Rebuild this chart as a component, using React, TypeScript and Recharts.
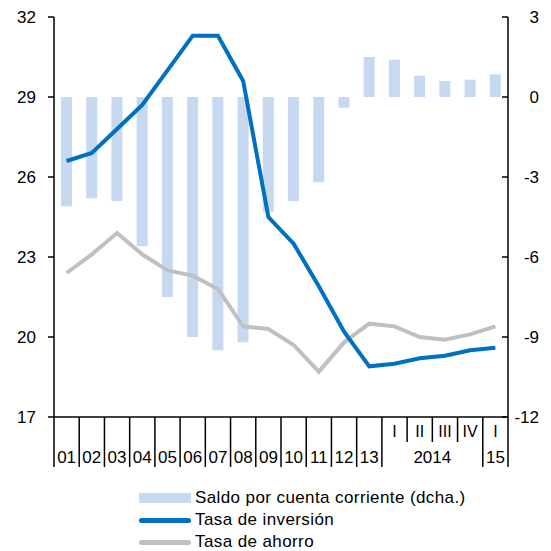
import React from 'react';
import { ComposedChart, Bar, Line, XAxis, YAxis } from 'recharts';

// rows under the x axis: quarters on top, years / 2-digit years below
const topRow = ['', '', '', '', '', '', '', '', '', '', '', '', '', 'I', 'II', 'III', 'IV', 'I'];
const bottomRow = ['01', '02', '03', '04', '05', '06', '07', '08', '09', '10', '11', '12', '13', '2014', '2014', '2014', '2014', '15'];

const saldo = [-4.1, -3.8, -3.9, -5.6, -7.5, -9.0, -9.5, -9.2, -4.3, -3.9, -3.2, -0.4, 1.5, 1.4, 0.8, 0.6, 0.65, 0.85];
const inversion = [26.6, 26.9, 27.8, 28.7, 30.0, 31.3, 31.3, 29.6, 24.5, 23.5, 21.9, 20.2, 18.9, 19.0, 19.2, 19.3, 19.5, 19.6];
const ahorro = [22.4, 23.1, 23.9, 23.1, 22.5, 22.3, 21.8, 20.4, 20.3, 19.7, 18.7, 19.8, 20.5, 20.4, 20.0, 19.9, 20.1, 20.4];

const leftTicks = [17, 20, 23, 26, 29, 32];
const rightTicks = [-12, -9, -6, -3, 0, 3];

const seriesNames = ['Saldo por cuenta corriente (dcha.)', 'Tasa de inversión', 'Tasa de ahorro'];
const BAR_COLOR = '#C6D9F1';
const BLUE = '#0070C0';
const GREY = '#C0C0C0';
const FONT = '"Liberation Sans", Arial, sans-serif';

const data = topRow.map((_, i) => ({
  id: String(i),
  saldo: saldo[i],
  inversion: inversion[i],
  ahorro: ahorro[i],
}));

const N = topRow.length;

const XTick = (props: any) => {
  const { x, y, index, payload, width } = props;
  const half = payload && payload.offset ? payload.offset : (width || 454) / N / 2;
  const step = half * 2;
  const left = x - half;
  const full = 50;
  const short = 25;
  const sameGroup = index > 0 && bottomRow[index] === bottomRow[index - 1];
  let groupLen = 1;
  while (index + groupLen < N && bottomRow[index + groupLen] === bottomRow[index]) groupLen++;
  return (
    <g>
      <line x1={left} y1={y} x2={left} y2={y + (sameGroup ? short : full)} stroke="#000" strokeWidth={1.5} />
      {index === N - 1 && (
        <line x1={x + half} y1={y} x2={x + half} y2={y + full} stroke="#000" strokeWidth={1.5} />
      )}
      {topRow[index] && (
        <text x={x} y={y + 20} textAnchor="middle" fontSize={16} fontFamily={FONT} fill="#000">
          {topRow[index]}
        </text>
      )}
      {!sameGroup && (
        <text x={left + (groupLen * step) / 2} y={y + 46} textAnchor="middle" fontSize={17} fontFamily={FONT} fill="#000">
          {bottomRow[index]}
        </text>
      )}
    </g>
  );
};

const RightTick = (props: any) => {
  const { x, y, payload } = props;
  return (
    <g>
      <line x1={x - 6} y1={y} x2={x} y2={y} stroke="#000" strokeWidth={1.5} />
      <text x={x + 31} y={y} dy="0.355em" textAnchor="end" fontSize={17} fontFamily={FONT} fill="#000">
        {payload.value}
      </text>
    </g>
  );
};

const Legend = () => (
  <div style={{ position: 'absolute', left: 139, top: 487, fontFamily: FONT, fontSize: 17, color: '#000', lineHeight: '22px' }}>
    {seriesNames.map((name, i) => (
      <div key={name} style={{ display: 'flex', alignItems: 'center', height: 22 }}>
        <span
          style={{
            display: 'inline-block',
            width: 52,
            height: i === 0 ? 10 : 5,
            borderRadius: i === 0 ? 0 : 3,
            background: i === 0 ? BAR_COLOR : i === 1 ? BLUE : GREY,
            marginRight: 4,
          }}
        />
        <span style={{ letterSpacing: 0.4 }}>{name}</span>
      </div>
    ))}
  </div>
);

export default function App() {
  return (
    <div style={{ position: 'absolute', left: 0, top: 0, width: 551, height: 551, background: '#fff' }}>
      <ComposedChart width={551} height={551} data={data} margin={{ top: 17, right: 0, left: 0, bottom: 79 }}>
        <XAxis
          dataKey="id"
          interval={0}
          tickSize={0}
          tickMargin={0}
          tickLine={false}
          axisLine={{ stroke: '#000', strokeWidth: 1.5 }}
          tick={<XTick />}
          height={55}
        />
        <YAxis
          yAxisId="left"
          orientation="left"
          domain={[17, 32]}
          ticks={leftTicks}
          width={54}
          tickSize={6}
          tickMargin={12}
          axisLine={{ stroke: '#000', strokeWidth: 1.5 }}
          tickLine={{ stroke: '#000', strokeWidth: 1.5 }}
          tick={{ fill: '#000', fontSize: 17, fontFamily: FONT }}
          allowDataOverflow
        />
        <YAxis
          yAxisId="right"
          orientation="right"
          domain={[-12, 3]}
          ticks={rightTicks}
          width={43}
          tickSize={0}
          tickMargin={0}
          tickLine={false}
          axisLine={{ stroke: '#000', strokeWidth: 1.5 }}
          tick={<RightTick />}
          allowDataOverflow
        />
        <Bar yAxisId="right" dataKey="saldo" fill={BAR_COLOR} barSize={11} isAnimationActive={false} />
        <Line yAxisId="left" type="linear" dataKey="ahorro" stroke={GREY} strokeWidth={4} dot={false} isAnimationActive={false} />
        <Line yAxisId="left" type="linear" dataKey="inversion" stroke={BLUE} strokeWidth={4} dot={false} isAnimationActive={false} />
      </ComposedChart>
      <Legend />
    </div>
  );
}
